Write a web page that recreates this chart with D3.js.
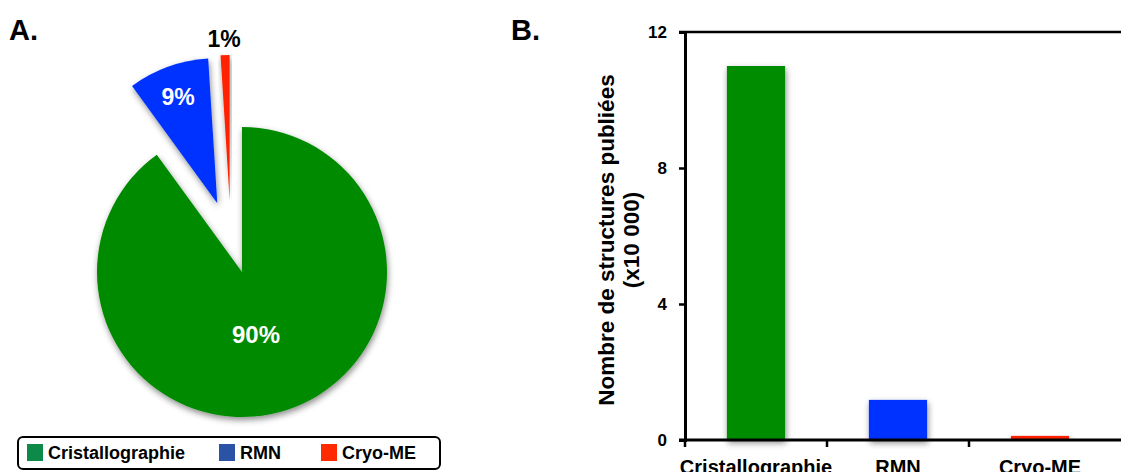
<!DOCTYPE html>
<html>
<head>
<meta charset="utf-8">
<script src="https://cdn.jsdelivr.net/npm/d3@7"></script>
<style>
  body { margin: 0; background: #fff; }
  text { font-family: "Liberation Sans", Arial, sans-serif; font-weight: bold; }
</style>
</head>
<body>
<svg id="chart" width="1121" height="472"></svg>
<script>
// donnees
var categories = ["Cristallographie", "RMN", "Cryo-ME"];
var piePercents = [90, 9, 1];
var pieLabels = ["90%", "9%", "1%"];
var barValues = [11.0, 1.18, 0.12]; // x10 000
var yTicks = [0, 4, 8, 12];

var pieColors = ["#008a00", "#0033ff", "#ff2200"],
    legendColors = ["#0e8a48", "#2a52a5", "#ff2a00"],
    barColors = ["#008c00", "#0033ff", "#ff2200"];

var svg = d3.select("#chart");

var defs = svg.append("defs");
var f = defs.append("filter").attr("id", "shadow")
    .attr("x", "-20%").attr("y", "-20%").attr("width", "140%").attr("height", "140%");
f.append("feDropShadow").attr("dx", 1).attr("dy", 3)
    .attr("stdDeviation", 3).attr("flood-color", "#000").attr("flood-opacity", 0.45);

// ---------- A. camembert ----------
svg.append("text").attr("x", 9).attr("y", 40).attr("font-size", 29).text("A.");

var cx = 242, cy = 272, r = 145;
var explode = [0, 73, 73],       // decalage des parts
    explodeAngle = [null, null, -0.17]; // direction forcee (radians) pour la petite part

var pie = d3.pie().sort(null).value(function(d) { return d; });
var arcs = pie(piePercents);
var arc = d3.arc().innerRadius(0).outerRadius(r);

var slice = svg.append("g").attr("transform", "translate(" + cx + "," + cy + ")")
  .selectAll("g").data(arcs).enter().append("g")
    .attr("transform", function(d, i) {
      var a = explodeAngle[i] != null ? explodeAngle[i] : (d.startAngle + d.endAngle) / 2;
      return "translate(" + (Math.sin(a) * explode[i]) + "," + (-Math.cos(a) * explode[i]) + ")";
    });

slice.append("path")
    .attr("d", arc)
    .attr("fill", function(d, i) { return pieColors[i]; })
    .attr("filter", "url(#shadow)");

var labelPos = [[14, 71], [-64, -167], [-18, -225]]; // relatif au centre
var labelSize = [24, 23, 23];
svg.append("g").attr("transform", "translate(" + cx + "," + cy + ")")
  .selectAll("text").data(arcs).enter().append("text")
    .attr("x", function(d, i) { return labelPos[i][0]; })
    .attr("y", function(d, i) { return labelPos[i][1]; })
    .attr("text-anchor", "middle")
    .attr("font-size", function(d, i) { return labelSize[i]; })
    .attr("fill", function(d, i) { return i == 2 ? "#000" : "#fff"; })
    .text(function(d, i) { return pieLabels[i]; });

// legende
var legend = svg.append("g");
legend.append("rect")
    .attr("x", 18).attr("y", 437).attr("width", 422).attr("height", 32)
    .attr("rx", 5).attr("fill", "#fff").attr("stroke", "#000").attr("stroke-width", 2);
var legX = [27, 219, 321];
var item = legend.selectAll("g").data(categories).enter().append("g")
    .attr("transform", function(d, i) { return "translate(" + legX[i] + ",444)"; });
item.append("rect").attr("width", 16).attr("height", 17)
    .attr("fill", function(d, i) { return legendColors[i]; });
item.append("text").attr("x", 21).attr("y", 15).attr("font-size", 18)
    .text(function(d) { return d; });

// ---------- B. histogramme ----------
svg.append("text").attr("x", 511).attr("y", 40).attr("font-size", 29).text("B.");

var x0 = 685, x1 = 1111, yTop = 32, yBot = 440;

var xScale = d3.scaleBand()
    .domain(categories)
    .range([x0, x1])
    .paddingInner(0.59)
    .paddingOuter(0.295);

var yScale = d3.scaleLinear()
    .domain([0, 12])
    .range([yBot, yTop]);

svg.append("g").selectAll("rect").data(barValues).enter().append("rect")
    .attr("x", function(d, i) { return xScale(categories[i]); })
    .attr("width", xScale.bandwidth())
    .attr("y", function(d) { return yScale(d); })
    .attr("height", function(d) { return yBot - yScale(d); })
    .attr("fill", function(d, i) { return barColors[i]; })
    .attr("filter", "url(#shadow)");

// cadre haut
svg.append("line").attr("x1", x0 - 6).attr("x2", 1121).attr("y1", yTop).attr("y2", yTop)
    .attr("stroke", "#000").attr("stroke-width", 2.5);

var yAxis = svg.append("g").attr("transform", "translate(" + x0 + ",0)")
    .call(d3.axisLeft(yScale).tickValues(yTicks).tickSize(6).tickPadding(12));
yAxis.select(".domain").attr("stroke-width", 3);
yAxis.selectAll(".tick line").attr("stroke-width", 2.5);
yAxis.selectAll("text").attr("font-size", 17).attr("font-family", "'Open Sans', sans-serif")
    .attr("font-weight", "bold").attr("fill", "#000");

svg.append("line").attr("x1", x0 - 6).attr("x2", 1121).attr("y1", yBot).attr("y2", yBot)
    .attr("stroke", "#000").attr("stroke-width", 3);

var tickX = [x0, x0 + xScale.step(), x0 + 2 * xScale.step()];
svg.append("g").selectAll("line").data(tickX).enter().append("line")
    .attr("x1", function(d) { return d; }).attr("x2", function(d) { return d; })
    .attr("y1", yBot).attr("y2", yBot + 7)
    .attr("stroke", "#000").attr("stroke-width", 2.5);

svg.append("g").selectAll("text").data(categories).enter().append("text")
    .attr("x", function(d) { return xScale(d) + xScale.bandwidth() / 2; })
    .attr("y", 474)
    .attr("text-anchor", "middle")
    .attr("font-size", 20)
    .text(function(d) { return d; });

var yTitle = svg.append("text")
    .attr("transform", "translate(614,240) rotate(-90)")
    .attr("text-anchor", "middle")
    .attr("font-size", 22.5);
yTitle.append("tspan").attr("x", 0).attr("y", 0).text("Nombre de structures publiées");
yTitle.append("tspan").attr("x", 0).attr("y", 25).text("(x10 000)");
</script>
</body>
</html>
